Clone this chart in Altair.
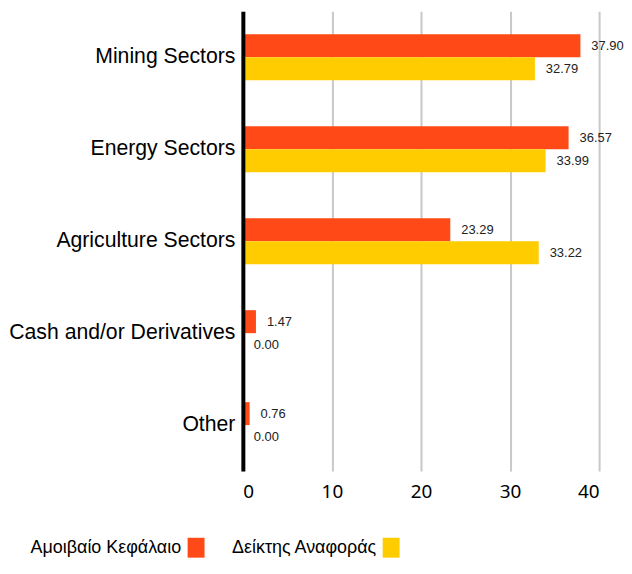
import altair as alt
import pandas as pd

categories = ["Mining Sectors", "Energy Sectors", "Agriculture Sectors",
              "Cash and/or Derivatives", "Other"]
fund = [37.90, 36.57, 23.29, 1.47, 0.76]
bench = [32.79, 33.99, 33.22, 0.00, 0.00]
series = ["Αμοιβαίο Κεφάλαιο", "Δείκτης Αναφοράς"]
colors = ["#FF4A17", "#FFCC00"]
ticks = [0, 10, 20, 30, 40]

rows = []
for c, f, b in zip(categories, fund, bench):
    rows.append({"category": c, "series": series[0], "value": f})
    rows.append({"category": c, "series": series[1], "value": b})
df = pd.DataFrame(rows)

TICK_FONT = "Noto Sans"
CAT_FONT = "Liberation Sans"

y = alt.Y("category:N", sort=categories,
          scale=alt.Scale(paddingInner=0.5, paddingOuter=0.25),
          axis=alt.Axis(title=None, labelFont=CAT_FONT, labelFontSize=21.3, labelLimit=400,
                        labelColor="black", labelPadding=8, ticks=False,
                        domainColor="black", domainWidth=4, zindex=1))
yoff = alt.YOffset("series:N", sort=series)
x = alt.X("value:Q", scale=alt.Scale(domain=[0, 40]),
          axis=alt.Axis(title=None, values=ticks, grid=True, gridColor="#c8c8c8",
                        gridWidth=2, domain=False, ticks=False, labelFont=TICK_FONT,
                        labelFontSize=19, labelPadding=12, labelColor="black"))
color = alt.Color("series:N", scale=alt.Scale(domain=series, range=colors), legend=None)

bars = alt.Chart(df).mark_bar().encode(y=y, yOffset=yoff, x=x, color=color)
labels = alt.Chart(df).mark_text(align="left", baseline="middle", dx=11, fontSize=13,
                                 font=CAT_FONT, color="#222222").encode(
    y=y, yOffset=yoff, x="value:Q", text=alt.Text("value:Q", format=".2f"))
main = alt.layer(bars, labels).properties(width=358, height=462)

leg_df = pd.DataFrame({"series": series})
lx = alt.X("series:N", sort=series,
           scale=alt.Scale(type="point", range=[-47, 149], padding=0), axis=None)
sq = alt.Chart(leg_df).mark_point(shape="M-0.85,-1H0.85V1H-0.85Z", filled=True,
                                  size=400, opacity=1).encode(x=lx, color=color)
tx = alt.Chart(leg_df).mark_text(align="right", baseline="middle", dx=-15, fontSize=18,
                                 font=CAT_FONT, color="black").encode(x=lx, text="series:N")
legend = alt.layer(sq, tx).properties(width=160, height=20)

chart = alt.vconcat(main, legend, spacing=36).configure_view(stroke=None).properties(
    padding={"left": 0, "top": 2, "right": 0, "bottom": 0})

chart.save("out.html", embed_options={"renderer": "svg", "actions": False})
